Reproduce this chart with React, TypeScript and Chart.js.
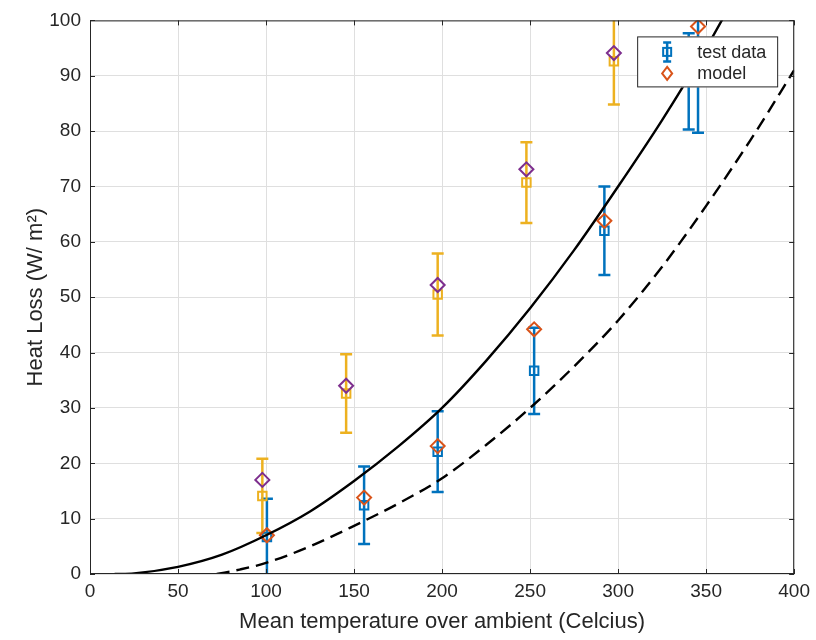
import React, { useEffect, useRef } from "react";
import { Chart, registerables } from "chart.js";

Chart.register(...registerables);

// ---- data ----
const testX = [100.5, 155.7, 197.5, 252.3, 292.2, 340.1, 345.4];
const testY = [6.7, 12.4, 22.1, 36.7, 62.0, 89.0, 91.5];
const testErr = [6.9, 7.0, 7.3, 7.8, 8.0, 8.7, 11.8];

const modelX = [100.5, 155.7, 197.5, 252.3, 292.2, 345.4];
const modelY = [7.0, 13.8, 23.1, 44.2, 63.8, 98.9];

const test2X = [97.9, 145.5, 197.5, 247.9, 297.6];
const test2Y = [14.1, 32.6, 50.5, 70.7, 92.6];
const test2Err = [6.7, 7.1, 7.4, 7.3, 7.8];
const model2Y = [17.0, 34.0, 52.2, 73.1, 94.1];

const solidX = [14, 25, 50, 75, 100, 125, 150, 175, 200, 225, 250, 275, 300, 325, 350, 365];
const solidY = [0, 0.12, 1.3, 3.5, 7.0, 11.3, 16.8, 23.0, 30.0, 38.5, 48.0, 58.5, 70.0, 82.0, 95.0, 103.5];

const dashX = [72, 85, 100, 125, 150, 175, 200, 225, 250, 275, 300, 325, 350, 375, 400];
const dashY = [0, 0.8, 2.0, 5.0, 8.7, 12.7, 17.3, 23.3, 30.0, 37.5, 45.8, 55.5, 66.5, 78.3, 91.0];

const xTickStep = 50;
const yTickStep = 10;
const xLabel = "Mean temperature over ambient (Celcius)";
const yLabel = "Heat Loss (W/ m\u00B2)";
const legendLabels = ["test data", "model"];

// ---- styles ----
const BLUE = "#0072BD";
const ORANGE = "#D95319";
const YELLOW = "#EDB120";
const PURPLE = "#7E2F8E";
const AXIS = "#262626";
const GRID = "#dfdfdf";
const FONT = "'Liberation Sans', Arial, Helvetica, sans-serif";
const CAP = 6;

const pts = (xs: number[], ys: number[]) => xs.map((x, i) => ({ x, y: ys[i] }));

function drawErrBars(chart: any, xs: number[], ys: number[], es: number[], color: string) {
  const { ctx, scales } = chart;
  const sx = scales.x, sy = scales.y;
  ctx.strokeStyle = color;
  ctx.lineWidth = 2.5;
  xs.forEach((xv, i) => {
    const px = sx.getPixelForValue(xv);
    const top = sy.getPixelForValue(ys[i] + es[i]);
    const bot = sy.getPixelForValue(ys[i] - es[i]);
    ctx.beginPath();
    ctx.moveTo(px, top);
    ctx.lineTo(px, bot);
    ctx.moveTo(px - CAP, top);
    ctx.lineTo(px + CAP, top);
    ctx.moveTo(px - CAP, bot);
    ctx.lineTo(px + CAP, bot);
    ctx.stroke();
  });
}

const errorBarPlugin = {
  id: "errbars",
  beforeDatasetsDraw(chart: any) {
    const { ctx, chartArea: a } = chart;
    ctx.save();
    ctx.beginPath();
    ctx.rect(a.left, a.top, a.right - a.left, a.bottom - a.top);
    ctx.clip();
    drawErrBars(chart, testX, testY, testErr, BLUE);
    drawErrBars(chart, test2X, test2Y, test2Err, YELLOW);
    ctx.restore();
  },
};

function diamond(ctx: CanvasRenderingContext2D, x: number, y: number, w: number, h: number) {
  ctx.beginPath();
  ctx.moveTo(x, y - h);
  ctx.lineTo(x + w, y);
  ctx.lineTo(x, y + h);
  ctx.lineTo(x - w, y);
  ctx.closePath();
  ctx.stroke();
}

const framePlugin = {
  id: "frame",
  afterDatasetsDraw(chart: any) {
    const { ctx, chartArea: a, scales } = chart;
    const sx = scales.x, sy = scales.y;
    ctx.save();
    ctx.strokeStyle = AXIS;
    ctx.lineWidth = 1;
    ctx.strokeRect(a.left + 0.5, a.top + 0.5, a.right - a.left - 1, a.bottom - a.top - 1);
    const tl = 5;
    ctx.beginPath();
    sx.ticks.forEach((t: any) => {
      const p = Math.round(sx.getPixelForValue(t.value)) + 0.5;
      ctx.moveTo(p, a.bottom);
      ctx.lineTo(p, a.bottom - tl);
      ctx.moveTo(p, a.top);
      ctx.lineTo(p, a.top + tl);
    });
    sy.ticks.forEach((t: any) => {
      const p = Math.round(sy.getPixelForValue(t.value)) + 0.5;
      ctx.moveTo(a.left, p);
      ctx.lineTo(a.left + tl, p);
      ctx.moveTo(a.right, p);
      ctx.lineTo(a.right - tl, p);
    });
    ctx.stroke();
    ctx.restore();
  },
  afterDraw(chart: any) {
    const { ctx, chartArea: a } = chart;
    ctx.save();
    const right = a.right - 16;
    const top = a.top + 16;
    const w = 141, h = 51;
    const left = right - w;
    ctx.fillStyle = "#ffffff";
    ctx.fillRect(left, top, w, h);
    ctx.strokeStyle = AXIS;
    ctx.lineWidth = 1;
    ctx.strokeRect(left + 0.5, top + 0.5, w - 1, h - 1);
    const ix = left + 30;
    const r1 = top + 15.5;
    const r2 = top + 37;
    // errorbar icon
    ctx.strokeStyle = BLUE;
    ctx.lineWidth = 2.5;
    ctx.beginPath();
    ctx.moveTo(ix, r1 - 9.5);
    ctx.lineTo(ix, r1 + 9.5);
    ctx.moveTo(ix - 4, r1 - 9.5);
    ctx.lineTo(ix + 4, r1 - 9.5);
    ctx.moveTo(ix - 4, r1 + 9.5);
    ctx.lineTo(ix + 4, r1 + 9.5);
    ctx.stroke();
    ctx.lineWidth = 2;
    ctx.strokeRect(ix - 4, r1 - 4, 8, 8);
    // diamond icon
    ctx.strokeStyle = ORANGE;
    ctx.lineWidth = 2;
    diamond(ctx, ix, r2, 5, 6.5);
    ctx.fillStyle = AXIS;
    ctx.font = `18px ${FONT}`;
    ctx.textBaseline = "middle";
    ctx.textAlign = "left";
    ctx.fillText(legendLabels[0], left + 60, r1 + 1);
    ctx.fillText(legendLabels[1], left + 60, r2 + 1);
    ctx.restore();
  },
};

export default function App() {
  const ref = useRef<HTMLCanvasElement | null>(null);
  useEffect(() => {
    if (!ref.current) return;
    const chart = new Chart(ref.current, {
      type: "scatter",
      data: {
        datasets: [
          {
            label: "fit",
            data: pts(solidX, solidY),
            showLine: true,
            borderColor: "#000000",
            borderWidth: 2.4,
            pointRadius: 0,
            cubicInterpolationMode: "monotone",
            order: 0,
          } as any,
          {
            label: "fit2",
            data: pts(dashX, dashY),
            showLine: true,
            borderColor: "#000000",
            borderWidth: 2.4,
            borderDash: [13, 7],
            pointRadius: 0,
            cubicInterpolationMode: "monotone",
            order: 0,
          } as any,
          {
            label: "model",
            data: pts(modelX, modelY),
            pointStyle: "rectRot",
            pointRadius: 7,
            borderColor: ORANGE,
            backgroundColor: "rgba(0,0,0,0)",
            borderWidth: 2,
            order: 1,
          },
          {
            label: "model2",
            data: pts(test2X, model2Y),
            pointStyle: "rectRot",
            pointRadius: 7,
            borderColor: PURPLE,
            backgroundColor: "rgba(0,0,0,0)",
            borderWidth: 2,
            order: 1,
          },
          {
            label: "test data",
            data: pts(testX, testY),
            pointStyle: "rect",
            pointRadius: 6,
            borderColor: BLUE,
            backgroundColor: "rgba(0,0,0,0)",
            borderWidth: 2,
            order: 2,
          },
          {
            label: "test data 2",
            data: pts(test2X, test2Y),
            pointStyle: "rect",
            pointRadius: 6,
            borderColor: YELLOW,
            backgroundColor: "rgba(0,0,0,0)",
            borderWidth: 2,
            order: 2,
          },
        ],
      },
      options: {
        animation: false,
        responsive: false,
        maintainAspectRatio: false,
        layout: { padding: { top: 16, right: 21, left: 0, bottom: 0 } },
        plugins: { legend: { display: false }, tooltip: { enabled: false } },
        scales: {
          x: {
            type: "linear",
            min: 0,
            max: 400,
            ticks: { stepSize: xTickStep, color: AXIS, font: { size: 19, family: FONT }, padding: 6, maxRotation: 0 },
            grid: { color: GRID, drawTicks: false },
            border: { display: false },
            title: { display: true, text: xLabel, color: AXIS, font: { size: 22, family: FONT }, padding: { top: 4, bottom: 5 } },
            afterFit(s: any) {
              s.height = 66;
            },
          },
          y: {
            type: "linear",
            min: 0,
            max: 100,
            ticks: { stepSize: yTickStep, color: AXIS, font: { size: 19, family: FONT }, padding: 9 },
            grid: { color: GRID, drawTicks: false },
            border: { display: false },
            title: { display: true, text: yLabel, color: AXIS, font: { size: 22, family: FONT }, padding: { top: 23, bottom: 0 } },
            afterFit(s: any) {
              s.width = 90;
            },
          },
        },
      },
      plugins: [errorBarPlugin, framePlugin],
    });
    return () => chart.destroy();
  }, []);
  return (
    <div style={{ position: "absolute", left: 0, top: 0, width: 816, height: 640, background: "#fff" }}>
      <canvas ref={ref} width={816} height={640} style={{ display: "block" }} />
    </div>
  );
}
